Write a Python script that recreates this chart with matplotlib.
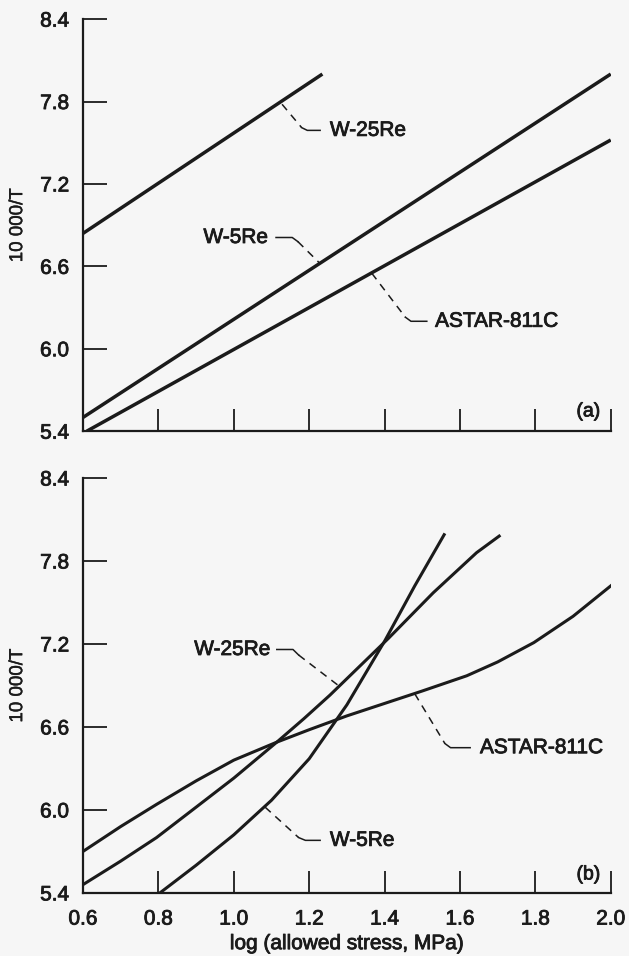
import matplotlib
matplotlib.use("Agg")
import matplotlib.pyplot as plt
import matplotlib.patheffects as pe

# Design curves, 10 000/T vs log(allowed stress)

# (a) upper panel
a_w25_x = [0.6, 1.235]
a_w25_y = [6.84, 8.0]
a_w5_x = [0.6, 2.0]
a_w5_y = [5.5, 8.0]
a_astar_x = [0.61, 2.0]
a_astar_y = [5.40, 7.52]

# (b) lower panel
b_astar_x = [0.6, 0.7, 0.795, 0.9, 1.0, 1.114, 1.2, 1.3, 1.4, 1.5, 1.618, 1.7, 1.796, 1.9, 2.0]
b_astar_y = [5.70, 5.88, 6.04, 6.21, 6.36, 6.49, 6.58, 6.68, 6.77, 6.86, 6.97, 7.07, 7.21, 7.40, 7.62]
b_w25_x = [0.6, 0.7, 0.795, 0.9, 1.0, 1.114, 1.186, 1.255, 1.41, 1.529, 1.644, 1.704]
b_w25_y = [5.46, 5.63, 5.80, 6.02, 6.23, 6.49, 6.66, 6.83, 7.24, 7.57, 7.86, 7.98]
b_w5_x = [0.804, 0.9, 1.0, 1.1, 1.2, 1.3, 1.4, 1.48, 1.558]
b_w5_y = [5.40, 5.60, 5.82, 6.07, 6.37, 6.76, 7.22, 7.62, 7.99]

xticks = [0.6, 0.8, 1.0, 1.2, 1.4, 1.6, 1.8, 2.0]
yticks = [5.4, 6.0, 6.6, 7.2, 7.8, 8.4]

plt.rcParams['font.family'] = ['Liberation Sans', 'DejaVu Sans']
ink = '#1b1b1b'
bg = '#f6f6f6'
thick = [pe.withStroke(linewidth=0.6, foreground=ink)]

fig = plt.figure(figsize=(6.29, 9.56), dpi=100, facecolor=bg)
ax1 = fig.add_axes([0.132, 0.549, 0.839, 0.431], facecolor=bg)
ax2 = fig.add_axes([0.132, 0.066, 0.839, 0.434], facecolor=bg)


def style(ax):
    ax.set_xlim(0.6, 2.0)
    ax.set_ylim(5.4, 8.4)
    ax.set_xticks(xticks)
    ax.set_yticks(yticks)
    ax.set_yticklabels([f'{v:.1f}' for v in yticks])
    for s in ['top', 'right']:
        ax.spines[s].set_visible(False)
    for s in ['left', 'bottom']:
        ax.spines[s].set_linewidth(1.6)
        ax.spines[s].set_color(ink)
    ax.tick_params(axis='x', direction='in', length=16, width=1.3, color=ink,
                   labelsize=15, labelcolor=ink, pad=12)
    ax.tick_params(axis='y', direction='in', length=17, width=1.3, color=ink,
                   labelsize=15, labelcolor=ink, pad=10)
    for lab in ax.get_xticklabels() + ax.get_yticklabels():
        lab.set_path_effects(thick)
    ax.set_ylabel('10 000/T', fontsize=13.5, color=ink, labelpad=10,
                  path_effects=[pe.withStroke(linewidth=0.3, foreground=ink)])


def leader(ax, pts_dash, pts_solid):
    ax.plot([p[0] for p in pts_dash], [p[1] for p in pts_dash], color=ink,
            lw=1.1, dashes=(5, 4), clip_on=False)
    ax.plot([p[0] for p in pts_solid], [p[1] for p in pts_solid], color=ink,
            lw=1.1, clip_on=False)


def label(ax, x, y, s, ha, size=15):
    ax.text(x, y, s, fontsize=size, color=ink, va='center', ha=ha,
            path_effects=thick)


style(ax1)
ax1.set_xticklabels([])
ax1.plot(a_w25_x, a_w25_y, color=ink, lw=2.5, solid_capstyle='butt')
ax1.plot(a_w5_x, a_w5_y, color=ink, lw=2.5, solid_capstyle='butt')
ax1.plot(a_astar_x, a_astar_y, color=ink, lw=2.5, solid_capstyle='butt')

leader(ax1, [(1.128, 7.78), (1.18, 7.61)], [(1.18, 7.61), (1.195, 7.59), (1.229, 7.59)])
label(ax1, 1.255, 7.59, 'W-25Re', 'left')
leader(ax1, [(1.17, 6.78), (1.229, 6.62)], [(1.112, 6.81), (1.155, 6.81), (1.17, 6.78)])
label(ax1, 1.091, 6.81, 'W-5Re', 'right')
leader(ax1, [(1.366, 6.55), (1.455, 6.23)], [(1.455, 6.23), (1.47, 6.20), (1.512, 6.20)])
label(ax1, 1.534, 6.20, 'ASTAR-811C', 'left')
label(ax1, 1.941, 5.54, '(a)', 'center', 14)

style(ax2)
ax2.set_xticklabels([f'{v:.1f}' for v in xticks])
for lab in ax2.get_xticklabels():
    lab.set_path_effects(thick)
ax2.set_xlabel('log (allowed stress, MPa)', fontsize=15, color=ink, labelpad=4,
               path_effects=thick)
ax2.plot(b_astar_x, b_astar_y, color=ink, lw=2.2)
ax2.plot(b_w25_x, b_w25_y, color=ink, lw=2.2)
ax2.plot(b_w5_x, b_w5_y, color=ink, lw=2.2)

leader(ax2, [(1.172, 7.12), (1.282, 6.89)], [(1.114, 7.16), (1.157, 7.16), (1.172, 7.12)])
label(ax2, 1.097, 7.16, 'W-25Re', 'right')
leader(ax2, [(1.083, 6.02), (1.172, 5.80)], [(1.172, 5.80), (1.19, 5.78), (1.229, 5.78)])
label(ax2, 1.255, 5.78, 'W-5Re', 'left')
leader(ax2, [(1.48, 6.84), (1.56, 6.48)], [(1.56, 6.48), (1.575, 6.45), (1.627, 6.45)])
label(ax2, 1.653, 6.45, 'ASTAR-811C', 'left')
label(ax2, 1.941, 5.53, '(b)', 'center', 14)

fig.savefig('out.png', dpi=100, facecolor=bg)
